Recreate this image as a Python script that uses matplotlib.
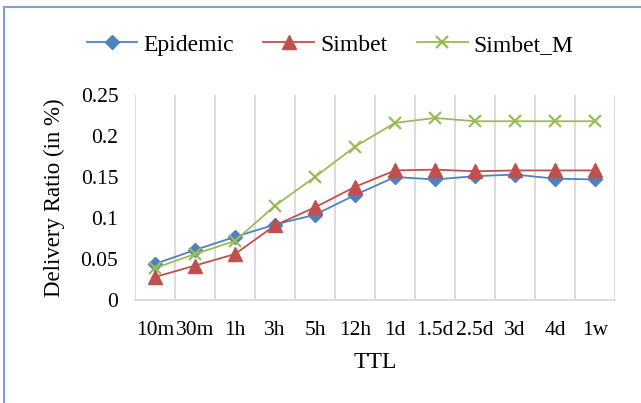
import matplotlib
matplotlib.use("Agg")
import matplotlib.pyplot as plt
from matplotlib.lines import Line2D

categories = ["10m", "30m", "1h", "3h", "5h", "12h", "1d", "1.5d", "2.5d", "3d", "4d", "1w"]
epidemic = [0.044, 0.061, 0.077, 0.092, 0.104, 0.128, 0.150, 0.147, 0.151, 0.153, 0.148, 0.147]
simbet = [0.028, 0.042, 0.056, 0.091, 0.113, 0.138, 0.158, 0.159, 0.157, 0.158, 0.158, 0.158]
simbet_m = [0.039, 0.056, 0.072, 0.115, 0.150, 0.187, 0.216, 0.222, 0.218, 0.218, 0.218, 0.218]
yticks = [0, 0.05, 0.1, 0.15, 0.2, 0.25]
ytick_labels = ["0", "0.05", "0.1", "0.15", "0.2", "0.25"]

plt.rcParams['font.family'] = ['Liberation Serif', 'DejaVu Serif']

W, H = 641, 403
fig = plt.figure(figsize=(W / 100, H / 100), dpi=100)
ax = fig.add_axes([135 / W, 1 - 300 / H, 480 / W, 205 / H])

x = list(range(len(categories)))
ax.plot(x, epidemic, color="#4F81BD", marker="D", markersize=7.5, lw=1.3, label="Epidemic")
ax.plot(x, simbet, color="#C0504D", marker="^", markersize=10, lw=1.3, label="Simbet")
ax.plot(x, simbet_m, color="#9BBB59", marker="x", markersize=8.5, mew=1.6, lw=1.3, label="Simbet_M")

ax.set_xlim(-0.5, len(categories) - 0.5)
ax.set_ylim(0, 0.25)
ax.set_yticks(yticks)
ax.set_yticklabels(ytick_labels)
ax.set_xticks(x)
ax.set_xticklabels(categories)
ax.set_xticks([i + 0.5 for i in range(-1, len(categories))], minor=True)
ax.grid(True, which="minor", axis="x", color="#D9D9D9", lw=1.3)
ax.tick_params(axis="both", which="both", length=0, labelsize=15.5)
ax.tick_params(axis="y", pad=12)
ax.tick_params(axis="x", pad=15)
for s in ["top", "right", "left"]:
    ax.spines[s].set_visible(False)
ax.spines["bottom"].set_color("#D9D9D9")
ax.spines["bottom"].set_linewidth(1.3)

ax.set_xlabel("TTL", fontsize=17, labelpad=9)
ax.set_ylabel("Delivery Ratio (in %)", fontsize=16.5, labelpad=11)

fig.legend(loc="center", bbox_to_anchor=(330 / W, 1 - 45 / H), ncol=3, frameon=False,
           fontsize=17, handlelength=2.15, columnspacing=1.25, handletextpad=0.25)

fig.add_artist(Line2D([4 / W, 4 / W], [0, 1 - 7 / H], color="#7F9FCF", lw=1.5, transform=fig.transFigure))
fig.add_artist(Line2D([4 / W, 1], [1 - 7 / H, 1 - 7 / H], color="#7F9FCF", lw=1.5, transform=fig.transFigure))

fig.savefig("out.png", dpi=100)
